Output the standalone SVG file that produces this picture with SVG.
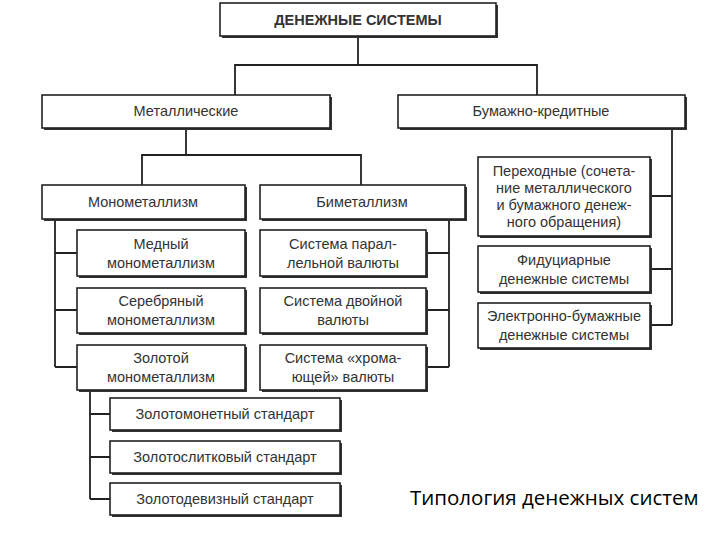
<svg xmlns="http://www.w3.org/2000/svg" width="720" height="540" viewBox="0 0 720 540">
<style>
.b{fill:#fff;stroke:#222;stroke-width:1.6}
.s{fill:#333}
.t{font-family:"Liberation Sans",Arial,sans-serif;font-size:14.5px;fill:#333;text-anchor:middle}
.c{fill:none;stroke:#222;stroke-width:1.8}
</style>
<rect width="720" height="540" fill="#fff"/>
<g id="connectors" class="c">
<path d="M358 36V65M235 95V65H537V95"/>
<path d="M186 128V155M142 185V155H361V185"/>
<path d="M55 219V367M55 253H77M55 310H77M55 367H77"/>
<path d="M449 219V367M449 253H426M449 310H426M449 367H426"/>
<path d="M90 390V499M90 414H110M90 457H110M90 499H110"/>
<path d="M672 128V325M672 196H650M672 269H650M672 325H650"/>
</g>
<g id="root"><rect class="s" x="222" y="5" width="276" height="33"/><rect class="b" x="220" y="3" width="276" height="33"/><text class="t" x="358" y="25" font-weight="bold">ДЕНЕЖНЫЕ СИСТЕМЫ</text></g>
<g id="metal"><rect class="s" x="44" y="97" width="288" height="33"/><rect class="b" x="42" y="95" width="288" height="33"/><text class="t" x="186" y="116">Металлические</text></g>
<g id="paper"><rect class="s" x="400" y="97" width="287" height="33"/><rect class="b" x="398" y="95" width="287" height="33"/><text class="t" x="541" y="116">Бумажно-кредитные</text></g>
<g id="mono"><rect class="s" x="44" y="187" width="203" height="34"/><rect class="b" x="42" y="185" width="203" height="34"/><text class="t" x="143" y="207">Монометаллизм</text></g>
<g id="bi"><rect class="s" x="262" y="187" width="205" height="34"/><rect class="b" x="260" y="185" width="205" height="34"/><text class="t" x="362" y="207">Биметаллизм</text></g>
<g id="copper"><rect class="s" x="79" y="232" width="168" height="46"/><rect class="b" x="77" y="230" width="168" height="46"/><text class="t" x="161" y="249">Медный</text><text class="t" x="161" y="268">монометаллизм</text></g>
<g id="silver"><rect class="s" x="79" y="290" width="168" height="45"/><rect class="b" x="77" y="288" width="168" height="45"/><text class="t" x="161" y="306">Серебряный</text><text class="t" x="161" y="325">монометаллизм</text></g>
<g id="gold"><rect class="s" x="79" y="347" width="168" height="45"/><rect class="b" x="77" y="345" width="168" height="45"/><text class="t" x="161" y="363">Золотой</text><text class="t" x="161" y="382">монометаллизм</text></g>
<g id="par"><rect class="s" x="262" y="232" width="166" height="46"/><rect class="b" x="260" y="230" width="166" height="46"/><text class="t" x="343" y="249">Система парал-</text><text class="t" x="343" y="268">лельной валюты</text></g>
<g id="dual"><rect class="s" x="262" y="290" width="166" height="45"/><rect class="b" x="260" y="288" width="166" height="45"/><text class="t" x="343" y="306">Система двойной</text><text class="t" x="343" y="325">валюты</text></g>
<g id="lame"><rect class="s" x="262" y="347" width="166" height="45"/><rect class="b" x="260" y="345" width="166" height="45"/><text class="t" x="343" y="363">Система «хрома-</text><text class="t" x="343" y="382">ющей» валюты</text></g>
<g id="gcoin"><rect class="s" x="112" y="400" width="230" height="32"/><rect class="b" x="110" y="398" width="230" height="32"/><text class="t" x="225" y="419">Золотомонетный стандарт</text></g>
<g id="gbar"><rect class="s" x="112" y="443" width="230" height="32"/><rect class="b" x="110" y="441" width="230" height="32"/><text class="t" x="225" y="462">Золотослитковый стандарт</text></g>
<g id="gexch"><rect class="s" x="112" y="485" width="230" height="32"/><rect class="b" x="110" y="483" width="230" height="32"/><text class="t" x="225" y="504">Золотодевизный стандарт</text></g>
<g id="trans"><rect class="s" x="480" y="159" width="172" height="79"/><rect class="b" x="478" y="157" width="172" height="79"/><text class="t" x="564" y="176">Переходные (сочета-</text><text class="t" x="564" y="193">ние металлического</text><text class="t" x="564" y="210">и бумажного денеж-</text><text class="t" x="564" y="227">ного обращения)</text></g>
<g id="fid"><rect class="s" x="480" y="248" width="172" height="46"/><rect class="b" x="478" y="246" width="172" height="46"/><text class="t" x="564" y="265">Фидуциарные</text><text class="t" x="564" y="284">денежные системы</text></g>
<g id="elec"><rect class="s" x="480" y="305" width="172" height="45"/><rect class="b" x="478" y="303" width="172" height="45"/><text class="t" x="564" y="321">Электронно-бумажные</text><text class="t" x="564" y="340">денежные системы</text></g>
<text x="410" y="505" font-family="'Open Sans','DejaVu Sans',sans-serif" font-size="20.5" fill="#000">Типология денежных систем</text>
</svg>
